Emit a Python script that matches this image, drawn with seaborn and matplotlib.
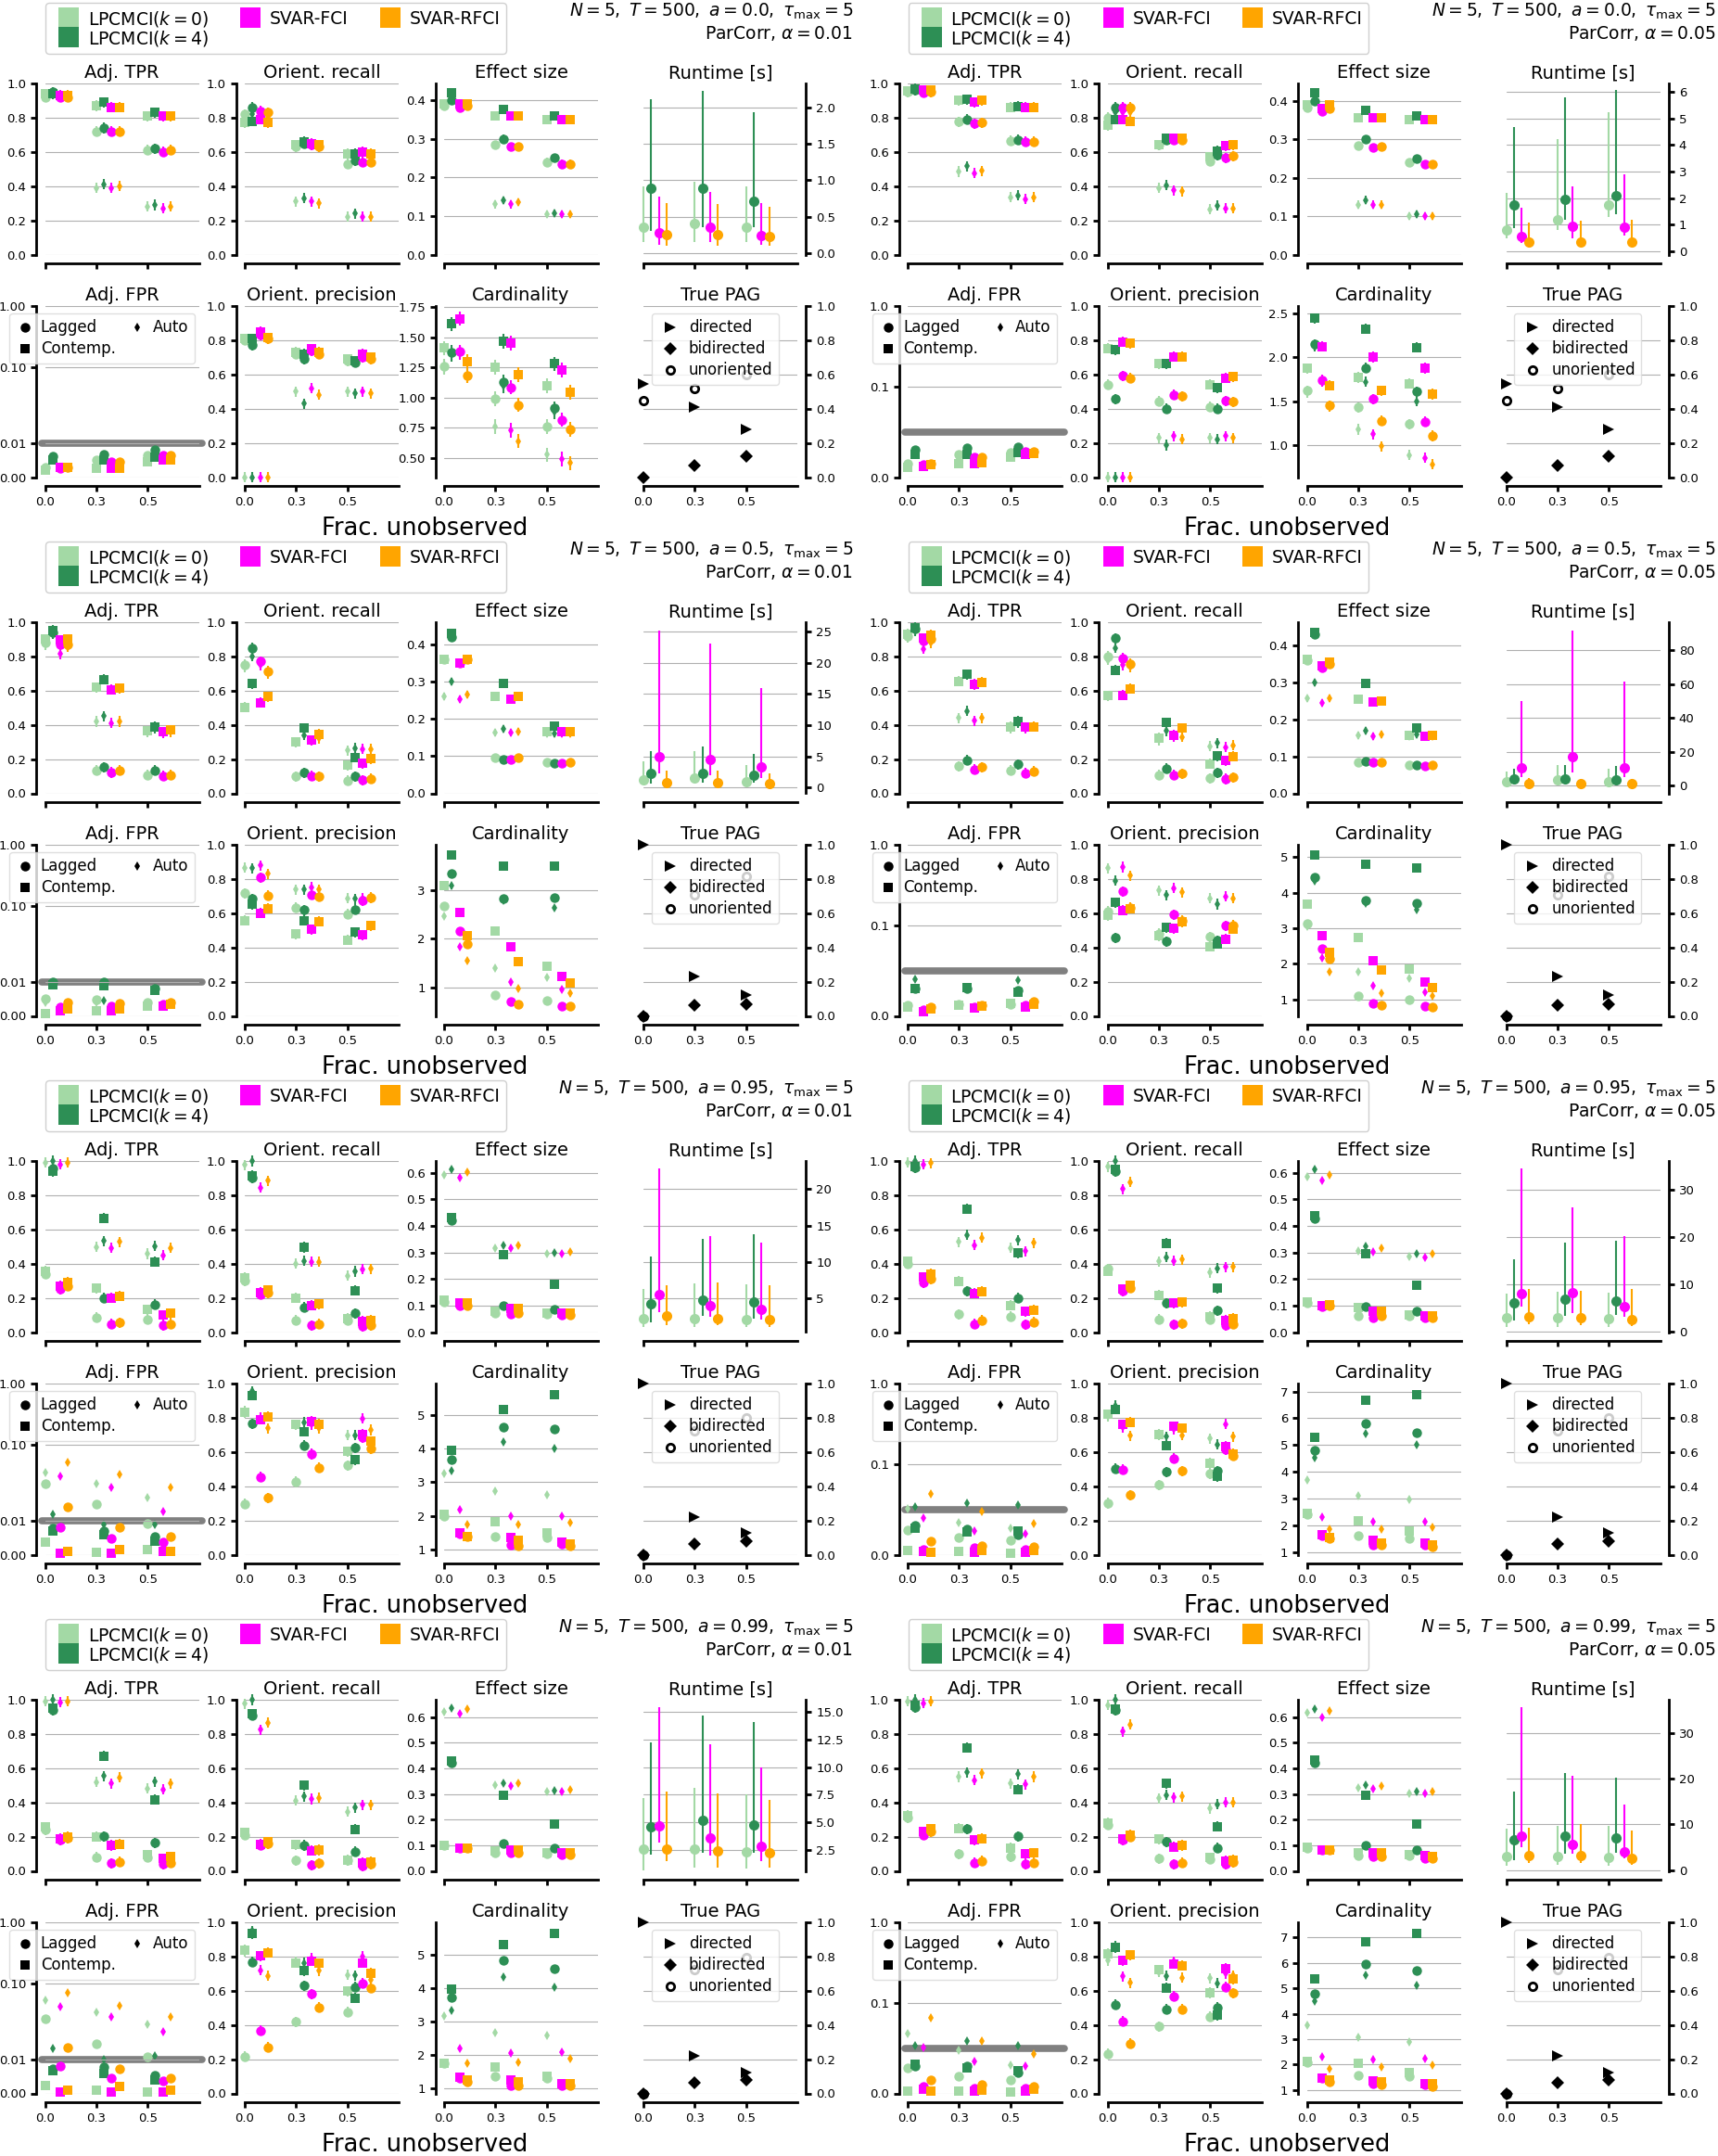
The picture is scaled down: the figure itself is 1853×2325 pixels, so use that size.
import matplotlib
matplotlib.use("Agg")
import matplotlib.pyplot as plt
import seaborn as sns
from matplotlib.lines import Line2D
from matplotlib.ticker import MultipleLocator, FixedLocator, FixedFormatter, NullLocator

# Every metric array: one row per method
#   (LPCMCI(k=0), LPCMCI(k=4), SVAR-FCI, SVAR-RFCI),
# one triple per fraction unobserved (0.0, 0.3, 0.5): (lagged, contemp., auto)
# Runtime triples are (mean, low, high).

# ---------------- a = 0.0, alpha = 0.01 ----------------
tpr_a00_01 = [[(0.92, 0.94, 0.93), (0.72, 0.87, 0.39), (0.61, 0.81, 0.28)],
              [(0.95, 0.94, 0.94), (0.74, 0.89, 0.41), (0.62, 0.83, 0.29)],
              [(0.92, 0.93, 0.92), (0.72, 0.86, 0.39), (0.60, 0.81, 0.27)],
              [(0.92, 0.93, 0.92), (0.72, 0.86, 0.40), (0.61, 0.81, 0.28)]]
recall_a00_01 = [[(0.82, 0.77, 0.80), (0.63, 0.64, 0.31), (0.53, 0.59, 0.22)],
                 [(0.86, 0.78, 0.82), (0.65, 0.66, 0.33), (0.55, 0.59, 0.24)],
                 [(0.84, 0.79, 0.81), (0.64, 0.65, 0.31), (0.54, 0.60, 0.22)],
                 [(0.83, 0.77, 0.80), (0.63, 0.64, 0.30), (0.54, 0.59, 0.22)]]
effect_a00_01 = [[(0.386, 0.39, 0.39), (0.285, 0.36, 0.13), (0.24, 0.35, 0.105)],
                 [(0.40, 0.418, 0.40), (0.30, 0.375, 0.14), (0.25, 0.36, 0.107)],
                 [(0.38, 0.39, 0.385), (0.28, 0.36, 0.13), (0.235, 0.35, 0.105)],
                 [(0.385, 0.39, 0.39), (0.28, 0.36, 0.135), (0.235, 0.35, 0.105)]]
runtime_a00_01 = [[(0.36, 0.15, 0.91), (0.41, 0.15, 0.98), (0.35, 0.15, 0.91)],
                  [(0.89, 0.30, 2.11), (0.89, 0.35, 2.23), (0.71, 0.35, 1.93)],
                  [(0.28, 0.12, 0.77), (0.35, 0.15, 0.84), (0.24, 0.12, 0.69)],
                  [(0.26, 0.10, 0.69), (0.25, 0.10, 0.67), (0.23, 0.10, 0.63)]]
fpr_a00_01 = [[(0.0029, 0.002, 0.0025), (0.0052, 0.0025, 0.004), (0.0065, 0.0045, 0.005)],
              [(0.0061, 0.005, 0.005), (0.0068, 0.005, 0.006), (0.008, 0.006, 0.007)],
              [(0.0025, 0.003, 0.0025), (0.0045, 0.0025, 0.004), (0.0065, 0.005, 0.006)],
              [(0.003, 0.003, 0.0025), (0.0045, 0.0025, 0.004), (0.0065, 0.005, 0.006)]]
prec_a00_01 = [[(0.80, 0.81, 0.0), (0.72, 0.73, 0.50), (0.68, 0.69, 0.50)],
               [(0.77, 0.81, 0.0), (0.69, 0.72, 0.43), (0.67, 0.68, 0.49)],
               [(0.83, 0.85, 0.0), (0.74, 0.75, 0.52), (0.70, 0.72, 0.50)],
               [(0.81, 0.815, 0.0), (0.72, 0.73, 0.48), (0.69, 0.70, 0.49)]]
card_a00_01 = [[(1.26, 1.41, 1.25), (0.99, 1.25, 0.76), (0.76, 1.10, 0.525)],
               [(1.375, 1.61, 1.36), (1.13, 1.466, 1.10), (0.91, 1.28, 0.88)],
               [(1.38, 1.656, 1.37), (1.085, 1.45, 0.73), (0.817, 1.23, 0.49)],
               [(1.185, 1.30, 1.18), (0.94, 1.19, 0.64), (0.735, 1.045, 0.457)]]

# ---------------- a = 0.0, alpha = 0.05 ----------------
tpr_a00_05 = [[(0.95, 0.956, 0.95), (0.776, 0.90, 0.485), (0.665, 0.86, 0.335)],
              [(0.96, 0.97, 0.96), (0.79, 0.906, 0.515), (0.67, 0.865, 0.345)],
              [(0.946, 0.96, 0.95), (0.765, 0.89, 0.475), (0.66, 0.86, 0.325)],
              [(0.95, 0.96, 0.95), (0.77, 0.90, 0.49), (0.66, 0.86, 0.335)]]
recall_a00_05 = [[(0.80, 0.755, 0.78), (0.64, 0.64, 0.39), (0.545, 0.57, 0.265)],
                 [(0.86, 0.79, 0.83), (0.67, 0.68, 0.405), (0.58, 0.605, 0.285)],
                 [(0.86, 0.79, 0.83), (0.67, 0.68, 0.375), (0.565, 0.635, 0.27)],
                 [(0.86, 0.78, 0.83), (0.67, 0.68, 0.37), (0.575, 0.64, 0.27)]]
effect_a00_05 = [[(0.382, 0.39, 0.385), (0.283, 0.355, 0.13), (0.24, 0.35, 0.10)],
                 [(0.40, 0.42, 0.40), (0.30, 0.376, 0.142), (0.25, 0.36, 0.105)],
                 [(0.372, 0.38, 0.375), (0.278, 0.355, 0.13), (0.235, 0.35, 0.10)],
                 [(0.38, 0.39, 0.385), (0.28, 0.355, 0.13), (0.235, 0.35, 0.10)]]
runtime_a00_05 = [[(0.81, 0.5, 2.2), (1.2, 0.8, 4.23), (1.75, 1.3, 5.23)],
                  [(1.74, 0.88, 4.68), (1.97, 1.2, 5.8), (2.1, 1.4, 6.06)],
                  [(0.55, 0.3, 1.63), (0.94, 0.5, 2.45), (0.9, 0.6, 2.9)],
                  [(0.36, 0.2, 1.07), (0.35, 0.2, 1.16), (0.35, 0.2, 1.2)]]
fpr_a00_05 = [[(0.0153, 0.011, 0.013), (0.025, 0.0145, 0.02), (0.027, 0.022, 0.025)],
              [(0.0305, 0.0248, 0.028), (0.032, 0.025, 0.03), (0.033, 0.027, 0.03)],
              [(0.014, 0.012, 0.013), (0.022, 0.015, 0.02), (0.028, 0.025, 0.026)],
              [(0.015, 0.014, 0.014), (0.022, 0.016, 0.02), (0.028, 0.026, 0.027)]]
prec_a00_05 = [[(0.542, 0.753, 0.0), (0.442, 0.663, 0.23), (0.41, 0.542, 0.23)],
               [(0.456, 0.743, 0.0), (0.40, 0.663, 0.187), (0.40, 0.522, 0.22)],
               [(0.592, 0.79, 0.0), (0.482, 0.703, 0.241), (0.446, 0.578, 0.24)],
               [(0.578, 0.783, 0.0), (0.472, 0.703, 0.22), (0.44, 0.586, 0.23)]]
card_a00_05 = [[(1.62, 1.873, 1.60), (1.43, 1.77, 1.18), (1.24, 1.70, 0.89)],
               [(2.145, 2.44, 2.12), (1.88, 2.32, 1.72), (1.61, 2.11, 1.50)],
               [(1.74, 2.12, 1.72), (1.526, 2.0, 1.125), (1.27, 1.876, 0.86)],
               [(1.45, 1.68, 1.44), (1.28, 1.62, 0.99), (1.11, 1.58, 0.786)]]

# ---------------- a = 0.5, alpha = 0.01 ----------------
tpr_a05_01 = [[(0.88, 0.90, 0.87), (0.134, 0.62, 0.42), (0.108, 0.365, 0.36)],
              [(0.94, 0.952, 0.93), (0.153, 0.665, 0.45), (0.133, 0.39, 0.38)],
              [(0.87, 0.895, 0.815), (0.122, 0.606, 0.41), (0.102, 0.36, 0.35)],
              [(0.87, 0.90, 0.855), (0.133, 0.614, 0.42), (0.108, 0.37, 0.36)]]
recall_a05_01 = [[(0.751, 0.504, 0.74), (0.098, 0.30, 0.30), (0.074, 0.165, 0.25)],
                 [(0.85, 0.64, 0.80), (0.12, 0.38, 0.34), (0.10, 0.21, 0.265)],
                 [(0.771, 0.53, 0.75), (0.102, 0.31, 0.31), (0.078, 0.175, 0.26)],
                 [(0.715, 0.564, 0.70), (0.10, 0.345, 0.32), (0.085, 0.203, 0.26)]]
effect_a05_01 = [[(0.36, 0.36, 0.26), (0.095, 0.26, 0.164), (0.084, 0.165, 0.16)],
                 [(0.42, 0.43, 0.30), (0.09, 0.295, 0.173), (0.08, 0.18, 0.16)],
                 [(0.35, 0.35, 0.253), (0.09, 0.253, 0.164), (0.08, 0.165, 0.16)],
                 [(0.36, 0.36, 0.265), (0.095, 0.26, 0.165), (0.083, 0.165, 0.16)]]
runtime_a05_01 = [[(1.25, 0.5, 4.26), (1.53, 0.8, 5.8), (0.98, 0.5, 3.7)],
                  [(2.3, 0.6, 5.9), (2.24, 0.8, 6.56), (1.97, 0.8, 5.35)],
                  [(4.97, 2.3, 25.2), (4.53, 2.0, 23.1), (3.28, 1.5, 15.96)],
                  [(0.87, 0.3, 2.8), (0.8, 0.3, 2.7), (0.7, 0.3, 2.3)]]
fpr_a05_01 = [[(0.0051, 0.0008, 0.004), (0.0048, 0.0015, 0.004), (0.004, 0.003, 0.0035)],
              [(0.0099, 0.0091, 0.0095), (0.0099, 0.009, 0.0045), (0.0081, 0.0075, 0.008)],
              [(0.0025, 0.0015, 0.002), (0.003, 0.0015, 0.0025), (0.0035, 0.003, 0.003)],
              [(0.0041, 0.002, 0.003), (0.0036, 0.002, 0.003), (0.004, 0.0035, 0.0035)]]
prec_a05_01 = [[(0.717, 0.558, 0.867), (0.633, 0.478, 0.739), (0.594, 0.442, 0.687)],
               [(0.683, 0.653, 0.863), (0.618, 0.556, 0.739), (0.622, 0.488, 0.683)],
               [(0.81, 0.60, 0.88), (0.709, 0.506, 0.753), (0.673, 0.472, 0.687)],
               [(0.703, 0.627, 0.83), (0.699, 0.552, 0.739), (0.693, 0.528, 0.689)]]
card_a05_01 = [[(2.67, 3.09, 2.47), (0.84, 2.17, 1.39), (0.73, 1.44, 1.2)],
               [(3.34, 3.73, 3.09), (2.83, 3.50, 2.80), (2.84, 3.50, 2.64)],
               [(2.156, 2.54, 1.84), (0.70, 1.83, 1.10), (0.62, 1.23, 0.96)],
               [(1.89, 2.07, 1.55), (0.65, 1.53, 0.98), (0.61, 1.085, 0.87)]]

# ---------------- a = 0.5, alpha = 0.05 ----------------
tpr_a05_05 = [[(0.92, 0.93, 0.91), (0.159, 0.655, 0.44), (0.133, 0.39, 0.38)],
              [(0.96, 0.968, 0.95), (0.193, 0.695, 0.48), (0.169, 0.42, 0.41)],
              [(0.89, 0.906, 0.845), (0.139, 0.637, 0.424), (0.118, 0.386, 0.38)],
              [(0.90, 0.926, 0.88), (0.153, 0.649, 0.44), (0.129, 0.39, 0.39)]]
recall_a05_05 = [[(0.80, 0.57, 0.78), (0.108, 0.323, 0.31), (0.088, 0.173, 0.275)],
                 [(0.906, 0.72, 0.85), (0.145, 0.414, 0.365), (0.12, 0.219, 0.295)],
                 [(0.79, 0.574, 0.75), (0.108, 0.339, 0.33), (0.084, 0.19, 0.27)],
                 [(0.757, 0.61, 0.74), (0.114, 0.38, 0.33), (0.094, 0.215, 0.28)]]
effect_a05_05 = [[(0.36, 0.362, 0.256), (0.085, 0.255, 0.156), (0.076, 0.158, 0.155)],
                 [(0.43, 0.435, 0.30), (0.087, 0.297, 0.17), (0.076, 0.177, 0.16)],
                 [(0.34, 0.345, 0.244), (0.083, 0.248, 0.155), (0.075, 0.155, 0.155)],
                 [(0.35, 0.355, 0.258), (0.083, 0.25, 0.16), (0.076, 0.158, 0.155)]]
runtime_a05_05 = [[(2.4, 1.0, 8.5), (3.4, 1.0, 12.5), (2.6, 1.0, 10.0)],
                  [(4.0, 1.5, 10.0), (4.2, 1.5, 12.5), (3.8, 1.5, 11.5)],
                  [(10.5, 5.0, 50.0), (17.1, 8.0, 91.5), (10.9, 5.0, 61.3)],
                  [(1.6, 0.5, 4.4), (1.2, 0.5, 4.0), (1.3, 0.5, 4.0)]]
fpr_a05_05 = [[(0.012, 0.0095, 0.011), (0.0133, 0.012, 0.012), (0.013, 0.014, 0.013)],
              [(0.030, 0.030, 0.041), (0.030, 0.031, 0.03), (0.0285, 0.026, 0.040)],
              [(0.007, 0.0046, 0.006), (0.010, 0.0084, 0.009), (0.012, 0.010, 0.011)],
              [(0.010, 0.0076, 0.009), (0.012, 0.011, 0.011), (0.016, 0.013, 0.015)]]
prec_a05_05 = [[(0.612, 0.588, 0.863), (0.48, 0.468, 0.733), (0.462, 0.406, 0.687)],
               [(0.456, 0.663, 0.79), (0.436, 0.516, 0.707), (0.44, 0.422, 0.653)],
               [(0.727, 0.616, 0.87), (0.592, 0.512, 0.747), (0.528, 0.448, 0.697)],
               [(0.633, 0.627, 0.82), (0.556, 0.55, 0.723), (0.53, 0.508, 0.687)]]
card_a05_05 = [[(3.125, 3.68, 3.05), (1.10, 2.73, 1.77), (1.0, 1.86, 1.60)],
               [(4.45, 5.06, 4.33), (3.78, 4.80, 3.72), (3.71, 4.69, 3.53)],
               [(2.44, 2.79, 2.16), (0.89, 2.10, 1.38), (0.81, 1.48, 1.21)],
               [(2.15, 2.33, 1.77), (0.85, 1.84, 1.18), (0.78, 1.34, 1.10)]]

# ---------------- a = 0.95, alpha = 0.01 ----------------
tpr_a95_01 = [[(0.34, 0.357, 0.99), (0.085, 0.256, 0.498), (0.075, 0.131, 0.458)],
              [(0.955, 0.94, 1.0), (0.20, 0.665, 0.532), (0.161, 0.411, 0.502)],
              [(0.252, 0.27, 0.98), (0.048, 0.20, 0.492), (0.038, 0.10, 0.448)],
              [(0.27, 0.29, 0.99), (0.056, 0.21, 0.528), (0.048, 0.109, 0.492)]]
recall_a95_01 = [[(0.30, 0.317, 0.976), (0.069, 0.20, 0.401), (0.07, 0.079, 0.33)],
                 [(0.90, 0.915, 1.0), (0.145, 0.496, 0.417), (0.109, 0.242, 0.355)],
                 [(0.22, 0.232, 0.845), (0.04, 0.155, 0.41), (0.034, 0.065, 0.367)],
                 [(0.23, 0.244, 0.885), (0.048, 0.165, 0.41), (0.04, 0.069, 0.371)]]
effect_a95_01 = [[(0.115, 0.119, 0.591), (0.07, 0.08, 0.317), (0.068, 0.071, 0.294)],
                 [(0.42, 0.432, 0.614), (0.10, 0.291, 0.326), (0.087, 0.18, 0.30)],
                 [(0.10, 0.109, 0.582), (0.067, 0.09, 0.317), (0.065, 0.07, 0.294)],
                 [(0.10, 0.11, 0.604), (0.07, 0.09, 0.326), (0.065, 0.07, 0.303)]]
runtime_a95_01 = [[(2.14, 1.0, 6.2), (2.1, 1.0, 7.0), (2.0, 1.0, 6.9)],
                  [(4.19, 1.67, 10.7), (4.76, 2.5, 13.2), (4.4, 2.2, 13.8)],
                  [(5.48, 3.0, 22.9), (3.9, 2.4, 13.5), (3.4, 2.0, 12.6)],
                  [(2.5, 1.2, 6.8), (2.2, 1.2, 7.1), (2.0, 1.0, 6.7)]]
fpr_a95_01 = [[(0.0225, 0.0037, 0.035), (0.015, 0.0008, 0.023), (0.0091, 0.0015, 0.0168)],
              [(0.0079, 0.0069, 0.012), (0.0071, 0.006, 0.009), (0.0054, 0.004, 0.009)],
              [(0.0081, 0.0005, 0.030), (0.0049, 0.0005, 0.020), (0.0036, 0.001, 0.0128)],
              [(0.0142, 0.001, 0.050), (0.0081, 0.0015, 0.032), (0.0054, 0.001, 0.0198)]]
prec_a95_01 = [[(0.297, 0.83, 0.84), (0.428, 0.759, 0.76), (0.522, 0.602, 0.699)],
               [(0.765, 0.93, 0.956), (0.639, 0.719, 0.773), (0.624, 0.554, 0.699)],
               [(0.454, 0.79, 0.80), (0.588, 0.779, 0.76), (0.683, 0.703, 0.795)],
               [(0.333, 0.807, 0.739), (0.508, 0.763, 0.739), (0.62, 0.663, 0.729)]]
card_a95_01 = [[(2.0, 2.05, 3.26), (1.38, 1.82, 2.74), (1.35, 1.48, 2.63)],
               [(3.67, 3.96, 3.33), (4.65, 5.16, 4.21), (4.58, 5.60, 4.0)],
               [(1.45, 1.48, 2.17), (1.12, 1.35, 1.98), (1.15, 1.2, 2.0)],
               [(1.38, 1.38, 1.74), (1.1, 1.28, 1.74), (1.1, 1.15, 1.79)]]

# ---------------- a = 0.95, alpha = 0.05 ----------------
tpr_a95_05 = [[(0.40, 0.413, 0.99), (0.105, 0.296, 0.528), (0.09, 0.155, 0.492)],
              [(0.96, 0.97, 1.0), (0.24, 0.72, 0.569), (0.20, 0.462, 0.538)],
              [(0.29, 0.32, 0.98), (0.048, 0.226, 0.508), (0.044, 0.121, 0.474)],
              [(0.31, 0.34, 0.988), (0.069, 0.236, 0.552), (0.058, 0.129, 0.522)]]
recall_a95_05 = [[(0.37, 0.357, 0.966), (0.075, 0.216, 0.413), (0.075, 0.091, 0.347)],
                 [(0.94, 0.95, 1.0), (0.169, 0.518, 0.437), (0.125, 0.256, 0.373)],
                 [(0.24, 0.25, 0.837), (0.044, 0.169, 0.417), (0.04, 0.07, 0.381)],
                 [(0.26, 0.272, 0.877), (0.05, 0.175, 0.423), (0.048, 0.079, 0.381)]]
effect_a95_05 = [[(0.11, 0.113, 0.585), (0.061, 0.093, 0.307), (0.06, 0.065, 0.285)],
                 [(0.43, 0.439, 0.613), (0.097, 0.296, 0.322), (0.08, 0.177, 0.294)],
                 [(0.095, 0.10, 0.572), (0.054, 0.08, 0.303), (0.055, 0.061, 0.283)],
                 [(0.10, 0.102, 0.593), (0.06, 0.08, 0.316), (0.055, 0.06, 0.294)]]
runtime_a95_05 = [[(2.9, 1.0, 8.1), (2.9, 1.0, 8.5), (2.7, 1.0, 8.3)],
                  [(6.1, 2.3, 15.3), (6.9, 3.4, 18.8), (6.5, 3.5, 19.3)],
                  [(8.0, 5.3, 34.5), (8.2, 4.0, 26.3), (5.2, 3.2, 20.2)],
                  [(3.1, 1.5, 9.0), (2.9, 1.3, 8.7), (2.5, 1.2, 9.0)]]
fpr_a95_05 = [[(0.027, 0.005, 0.051), (0.019, 0.004, 0.036), (0.016, 0.002, 0.029)],
              [(0.032, 0.029, 0.053), (0.028, 0.025, 0.057), (0.022, 0.026, 0.055)],
              [(0.006, 0.004, 0.041), (0.008, 0.003, 0.026), (0.006, 0.003, 0.023)],
              [(0.0146, 0.003, 0.067), (0.010, 0.005, 0.048), (0.009, 0.005, 0.035)]]
prec_a95_05 = [[(0.301, 0.819, 0.81), (0.408, 0.703, 0.70), (0.474, 0.534, 0.679)],
               [(0.504, 0.849, 0.87), (0.484, 0.639, 0.689), (0.488, 0.458, 0.643)],
               [(0.498, 0.759, 0.743), (0.562, 0.749, 0.733), (0.614, 0.633, 0.763)],
               [(0.347, 0.775, 0.695), (0.488, 0.739, 0.699), (0.578, 0.588, 0.689)]]
card_a95_05 = [[(2.4, 2.45, 3.70), (1.6, 2.16, 3.12), (1.52, 1.8, 2.95)],
               [(4.80, 5.3, 4.52), (5.82, 6.68, 5.44), (5.46, 6.88, 5.0)],
               [(1.6, 1.64, 2.31), (1.25, 1.45, 2.12), (1.25, 1.32, 2.12)],
               [(1.5, 1.54, 1.86), (1.25, 1.35, 1.86), (1.2, 1.26, 1.93)]]

# ---------------- a = 0.99, alpha = 0.01 ----------------
tpr_a99_01 = [[(0.24, 0.255, 0.99), (0.08, 0.20, 0.52), (0.08, 0.094, 0.48)],
              [(0.94, 0.95, 1.0), (0.203, 0.67, 0.554), (0.163, 0.416, 0.522)],
              [(0.18, 0.189, 0.984), (0.044, 0.149, 0.512), (0.038, 0.072, 0.476)],
              [(0.19, 0.199, 0.99), (0.052, 0.155, 0.546), (0.048, 0.082, 0.51)]]
recall_a99_01 = [[(0.21, 0.223, 0.976), (0.062, 0.153, 0.41), (0.06, 0.064, 0.345)],
                 [(0.91, 0.916, 1.0), (0.149, 0.50, 0.434), (0.112, 0.243, 0.369)],
                 [(0.15, 0.155, 0.825), (0.034, 0.118, 0.42), (0.03, 0.048, 0.385)],
                 [(0.16, 0.169, 0.867), (0.044, 0.122, 0.426), (0.04, 0.052, 0.385)]]
effect_a99_01 = [[(0.098, 0.098, 0.621), (0.07, 0.079, 0.334), (0.068, 0.069, 0.308)],
                 [(0.42, 0.429, 0.634), (0.105, 0.296, 0.341), (0.089, 0.182, 0.314)],
                 [(0.088, 0.088, 0.614), (0.07, 0.08, 0.332), (0.065, 0.07, 0.309)],
                 [(0.09, 0.09, 0.631), (0.07, 0.08, 0.341), (0.065, 0.07, 0.318)]]
runtime_a99_01 = [[(2.6, 0.68, 7.2), (2.6, 0.9, 8.1), (2.3, 0.8, 7.5)],
                  [(4.6, 2.07, 12.25), (5.2, 2.2, 14.7), (4.75, 2.2, 14.1)],
                  [(4.7, 3.2, 15.4), (3.6, 2.0, 12.1), (2.8, 1.5, 10.0)],
                  [(2.6, 1.45, 7.75), (2.4, 0.9, 7.6), (2.2, 0.9, 7.0)]]
fpr_a99_01 = [[(0.0263, 0.0023, 0.052), (0.0147, 0.001, 0.0329), (0.0109, 0.0005, 0.0214)],
              [(0.0073, 0.0066, 0.0134), (0.0079, 0.006, 0.010), (0.0053, 0.004, 0.011)],
              [(0.0081, 0.0005, 0.0415), (0.0046, 0.0005, 0.0277), (0.0036, 0.0005, 0.0181)],
              [(0.0137, 0.001, 0.0689), (0.0073, 0.002, 0.0426), (0.0046, 0.001, 0.0277)]]
prec_a99_01 = [[(0.215, 0.839, 0.83), (0.418, 0.763, 0.77), (0.476, 0.598, 0.693)],
               [(0.769, 0.934, 0.95), (0.629, 0.717, 0.763), (0.622, 0.556, 0.689)],
               [(0.367, 0.803, 0.719), (0.582, 0.773, 0.79), (0.643, 0.763, 0.80)],
               [(0.271, 0.823, 0.687), (0.502, 0.759, 0.717), (0.616, 0.703, 0.663)]]
card_a99_01 = [[(1.75, 1.75, 3.16), (1.36, 1.65, 2.68), (1.3, 1.36, 2.58)],
               [(3.73, 3.99, 3.34), (4.84, 5.30, 4.35), (4.59, 5.64, 4.04)],
               [(1.3, 1.34, 2.19), (1.1, 1.26, 2.06), (1.1, 1.15, 2.08)],
               [(1.2, 1.26, 1.74), (1.1, 1.19, 1.79), (1.1, 1.13, 1.88)]]

# ---------------- a = 0.99, alpha = 0.05 ----------------
tpr_a99_05 = [[(0.31, 0.325, 0.99), (0.098, 0.249, 0.55), (0.082, 0.135, 0.51)],
              [(0.956, 0.97, 1.0), (0.245, 0.72, 0.576), (0.203, 0.476, 0.566)],
              [(0.209, 0.229, 0.98), (0.048, 0.179, 0.53), (0.038, 0.098, 0.506)],
              [(0.23, 0.245, 0.99), (0.058, 0.189, 0.57), (0.048, 0.104, 0.55)]]
recall_a99_05 = [[(0.27, 0.279, 0.97), (0.072, 0.185, 0.424), (0.07, 0.078, 0.365)],
                 [(0.94, 0.948, 1.0), (0.169, 0.51, 0.444), (0.133, 0.259, 0.39)],
                 [(0.18, 0.185, 0.815), (0.038, 0.139, 0.43), (0.04, 0.058, 0.40)],
                 [(0.20, 0.209, 0.855), (0.048, 0.149, 0.436), (0.05, 0.064, 0.40)]]
effect_a99_05 = [[(0.09, 0.092, 0.618), (0.061, 0.072, 0.325), (0.06, 0.063, 0.301)],
                 [(0.42, 0.431, 0.631), (0.098, 0.296, 0.336), (0.083, 0.182, 0.309)],
                 [(0.08, 0.081, 0.60), (0.056, 0.07, 0.321), (0.05, 0.059, 0.301)],
                 [(0.08, 0.083, 0.622), (0.055, 0.07, 0.332), (0.05, 0.055, 0.309)]]
runtime_a99_05 = [[(3.0, 1.0, 9.1), (3.07, 1.2, 9.7), (2.8, 1.0, 9.6)],
                  [(6.7, 2.25, 17.1), (7.5, 3.5, 21.3), (7.0, 3.7, 20.2)],
                  [(7.5, 5.0, 35.6), (5.6, 3.5, 20.7), (3.9, 2.5, 14.4)],
                  [(3.15, 1.5, 9.2), (3.1, 1.5, 10.0), (2.6, 1.2, 8.6)]]
fpr_a99_05 = [[(0.0285, 0.003, 0.0665), (0.019, 0.003, 0.0475), (0.0145, 0.002, 0.031)],
              [(0.030, 0.032, 0.053), (0.030, 0.0285, 0.058), (0.023, 0.025, 0.053)],
              [(0.008, 0.005, 0.051), (0.006, 0.003, 0.036), (0.006, 0.003, 0.030)],
              [(0.0145, 0.003, 0.0844), (0.010, 0.004, 0.058), (0.008, 0.005, 0.0437)]]
prec_a99_05 = [[(0.231, 0.817, 0.777), (0.392, 0.723, 0.71), (0.448, 0.588, 0.673)],
               [(0.518, 0.853, 0.86), (0.492, 0.616, 0.687), (0.502, 0.458, 0.643)],
               [(0.422, 0.777, 0.683), (0.568, 0.757, 0.77), (0.622, 0.729, 0.70)],
               [(0.291, 0.809, 0.647), (0.492, 0.747, 0.677), (0.586, 0.669, 0.69)]]
card_a99_05 = [[(2.1, 2.12, 3.53), (1.58, 2.04, 3.06), (1.52, 1.68, 2.9)],
               [(4.77, 5.38, 4.5), (5.96, 6.85, 5.52), (5.71, 7.16, 5.13)],
               [(1.45, 1.47, 2.31), (1.25, 1.34, 2.18), (1.2, 1.24, 2.22)],
               [(1.3, 1.38, 1.81), (1.2, 1.30, 1.91), (1.15, 1.23, 1.97)]]

# True PAG fractions per frac. unobserved: directed, bidirected, unoriented
pag_a00 = [[0.547, 0.411, 0.279], [0.0, 0.069, 0.12], [0.449, 0.516, 0.60]]
pag_a05 = [[1.0, 0.233, 0.12], [0.0, 0.06, 0.066], [0.0, 0.707, 0.817]]
pag_a95 = [[1.0, 0.219, 0.127], [0.0, 0.062, 0.076], [0.0, 0.723, 0.80]]
pag_a99 = [[1.0, 0.221, 0.124], [0.0, 0.06, 0.08], [0.0, 0.723, 0.793]]

methods = ["LPCMCI($k=0$)", "LPCMCI($k=4$)", "SVAR-FCI", "SVAR-RFCI"]
frac_labels = ["0.0", "0.3", "0.5"]
blocks = [("a00_01", "0.0", 0.01), ("a00_05", "0.0", 0.05),
          ("a05_01", "0.5", 0.01), ("a05_05", "0.5", 0.05),
          ("a95_01", "0.95", 0.01), ("a95_05", "0.95", 0.05),
          ("a99_01", "0.99", 0.01), ("a99_05", "0.99", 0.05)]

g = globals()
pags = {"0.0": pag_a00, "0.5": pag_a05, "0.95": pag_a95, "0.99": pag_a99}

# axis ranges per block (style)
effect_top = {"a00_01": 0.443, "a00_05": 0.445, "a05_01": 0.46, "a05_05": 0.463,
              "a95_01": 0.645, "a95_05": 0.645, "a99_01": 0.667, "a99_05": 0.667}
card_range = {"a00_01": (0.34, 1.76, 0.25), "a00_05": (0.64, 2.58, 0.5),
              "a05_01": (0.41, 3.94, 1), "a05_05": (0.54, 5.35, 1),
              "a95_01": (0.84, 5.94, 1), "a95_05": (0.9, 7.3, 1),
              "a99_01": (0.85, 5.98, 1), "a99_05": (0.86, 7.6, 1)}
rt_range = {"a00_01": (-0.02, 2.33, 0.5), "a00_05": (-0.12, 6.32, 1),
            "a05_01": (-0.9, 26.5, 5), "a05_05": (-4.4, 96.5, 20),
            "a95_01": (0.3, 23.9, 5), "a95_05": (-0.1, 36.1, 10),
            "a99_01": (0.6, 16.1, 2.5), "a99_05": (-0.15, 37.2, 10)}

colors = ["#a3d9a5", "#2d8f55", "#ff00ff", "#ffa500"]
offsets = [0.0, 0.15, 0.30, 0.45]
kinds = [("o", 7.5), ("s", 7.0), ("d", 5.5)]
err_half = {"tpr": 0.03, "recall": 0.03, "effect": 0.01, "prec": 0.03, "card": 0.06}

sns.set_style("ticks")
plt.rcParams.update({
    "font.family": ["DejaVu Sans"],
    "mathtext.fontset": "dejavusans",
    "axes.edgecolor": "black",
    "axes.linewidth": 2.0,
    "xtick.color": "black",
    "ytick.color": "black",
    "xtick.major.width": 2.0,
    "ytick.major.width": 2.0,
    "xtick.major.size": 4.5,
    "ytick.major.size": 4.5,
    "xtick.labelsize": 9.5,
    "ytick.labelsize": 9.5,
    "text.color": "black",
})

W, H = 1853, 2325
fig = plt.figure(figsize=(W / 100, H / 100), dpi=100)


def add_ax(x, y, w, h):
    return fig.add_axes([x / W, 1 - (y + h) / H, w / W, h / H])


def base_axis(ax, title, right=False, labels=True):
    ax.set_xlim(0, 3)
    ax.set_xticks([0, 1, 2])
    ax.set_xticklabels(frac_labels)
    ax.tick_params(axis="x", labelbottom=labels)
    ax.yaxis.grid(True, color="#b0b0b0", lw=0.8)
    ax.set_axisbelow(True)
    ax.set_title(title, fontsize=14, pad=4)
    if right:
        sns.despine(ax=ax, left=True, right=False, offset=6.5)
        ax.yaxis.tick_right()
    else:
        sns.despine(ax=ax, offset=6.5)


def draw_metric(ax, vals, err):
    for m, rows in enumerate(vals):
        xs = [k + offsets[m] for k in range(3)]
        for t, (mk, ms) in enumerate(kinds):
            ys = [rows[k][t] for k in range(3)]
            ax.errorbar(xs, ys, yerr=err, fmt=mk, markersize=ms, color=colors[m],
                        markeredgewidth=0, elinewidth=1.5, capsize=0,
                        clip_on=False, zorder=3)


def draw_runtime(ax, vals):
    for m, rows in enumerate(vals):
        xs = [k + offsets[m] for k in range(3)]
        mid = [r[0] for r in rows]
        lo = [r[0] - r[1] for r in rows]
        hi = [r[2] - r[0] for r in rows]
        ax.errorbar(xs, mid, yerr=[lo, hi], fmt="o", markersize=8, color=colors[m],
                    markeredgewidth=0, elinewidth=1.5, capsize=1.5, capthick=2,
                    clip_on=False, zorder=3)


lag_handles = [Line2D([], [], ls="none", marker="o", markersize=7.5, color="k", mew=0),
               Line2D([], [], ls="none", marker="s", markersize=7, color="k", mew=0),
               Line2D([], [], ls="none", marker="d", markersize=5.5, color="k", mew=0),
               Line2D([], [], ls="none")]
pag_handles = [Line2D([], [], ls="none", marker=">", markersize=8, color="k", mew=0),
               Line2D([], [], ls="none", marker="D", markersize=7, color="k", mew=0),
               Line2D([], [], ls="none", marker="o", markersize=6, mfc="white",
                      mec="k", mew=2)]
blank = Line2D([], [], ls="none")
method_handles = [Line2D([], [], ls="none", marker="s", markersize=16, color=c, mew=0)
                  for c in colors]

block_x = [0, 930.5]
block_y = [0, 581, 1162, 1743]
col_x = [48.5, 264, 479, 694]
row_y = [90, 330]
AX_W, AX_H = 166, 184.5

for i, (key, a_txt, alpha) in enumerate(blocks):
    bx = block_x[i % 2]
    by = block_y[i // 2]

    # ---- top row ----
    ax = add_ax(bx + col_x[0], by + row_y[0], AX_W, AX_H)
    draw_metric(ax, g["tpr_" + key], err_half["tpr"])
    ax.set_ylim(0, 1)
    ax.yaxis.set_major_locator(MultipleLocator(0.2))
    base_axis(ax, "Adj. TPR", labels=False)

    ax = add_ax(bx + col_x[1], by + row_y[0], AX_W, AX_H)
    draw_metric(ax, g["recall_" + key], err_half["recall"])
    ax.set_ylim(0, 1)
    ax.yaxis.set_major_locator(MultipleLocator(0.2))
    base_axis(ax, "Orient. recall", labels=False)

    ax = add_ax(bx + col_x[2], by + row_y[0], AX_W, AX_H)
    draw_metric(ax, g["effect_" + key], err_half["effect"])
    ax.set_ylim(0, effect_top[key])
    ax.yaxis.set_major_locator(MultipleLocator(0.1))
    base_axis(ax, "Effect size", labels=False)

    ax = add_ax(bx + col_x[3], by + row_y[0], AX_W, AX_H)
    draw_runtime(ax, g["runtime_" + key])
    lo, hi, step = rt_range[key]
    ax.set_ylim(lo, hi)
    ax.yaxis.set_major_locator(MultipleLocator(step))
    base_axis(ax, "Runtime [s]", right=True, labels=False)

    # ---- bottom row ----
    ax = add_ax(bx + col_x[0], by + row_y[1], AX_W, AX_H)
    draw_metric(ax, g["fpr_" + key], None)
    ax.set_yscale("symlog", linthresh=2 * alpha, linscale=1.0)
    ax.set_ylim(0, 1.0005)
    if alpha == 0.01:
        ticks, tlabels = [0, 0.01, 0.1, 1], ["0.00", "0.01", "0.10", "1.00"]
    else:
        ticks, tlabels = [0, 0.1, 1], ["0.0", "0.1", "1.0"]
    ax.yaxis.set_major_locator(FixedLocator(ticks))
    ax.yaxis.set_major_formatter(FixedFormatter(tlabels))
    ax.yaxis.set_minor_locator(NullLocator())
    ax.axhline(alpha, xmin=-0.02, xmax=1.02, color="grey", lw=5.5, zorder=2, clip_on=False)
    base_axis(ax, "Adj. FPR")
    ax.legend(lag_handles, ["Lagged", "Contemp.", "Auto", ""], ncol=2, loc="upper left",
              bbox_to_anchor=(-0.229, 0.958), fontsize=12, handlelength=1.2,
              handletextpad=0.4, columnspacing=0.8, labelspacing=0.3, borderpad=0.4,
              borderaxespad=0, frameon=True, edgecolor="#d8d8d8")
    ax.yaxis.set_zorder(6)

    ax = add_ax(bx + col_x[1], by + row_y[1], AX_W, AX_H)
    draw_metric(ax, g["prec_" + key], err_half["prec"])
    ax.set_ylim(0, 1)
    ax.yaxis.set_major_locator(MultipleLocator(0.2))
    base_axis(ax, "Orient. precision")

    ax = add_ax(bx + col_x[2], by + row_y[1], AX_W, AX_H)
    draw_metric(ax, g["card_" + key], err_half["card"])
    lo, hi, step = card_range[key]
    ax.set_ylim(lo, hi)
    ax.yaxis.set_major_locator(MultipleLocator(step))
    base_axis(ax, "Cardinality")

    ax = add_ax(bx + col_x[3], by + row_y[1], AX_W, AX_H)
    pag = pags[a_txt]
    xs = [0, 1, 2]
    ax.plot(xs, pag[2], ls="none", marker="o", markersize=6, mfc="white", mec="k",
            mew=2, clip_on=False, zorder=3)
    ax.plot(xs, pag[0], ls="none", marker=">", markersize=8, color="k", mew=0,
            clip_on=False, zorder=3)
    ax.plot(xs, pag[1], ls="none", marker="D", markersize=7, color="k", mew=0,
            clip_on=False, zorder=3)
    ax.set_ylim(0, 1)
    ax.yaxis.set_major_locator(MultipleLocator(0.2))
    base_axis(ax, "True PAG", right=True)
    ax.legend(pag_handles, ["directed", "bidirected", "unoriented"], loc="upper left",
              bbox_to_anchor=(0.052, 0.958), fontsize=12, handlelength=1.6,
              handletextpad=0.4, labelspacing=0.3, borderpad=0.4, borderaxespad=0,
              frameon=True, edgecolor="#d8d8d8")

    # ---- block legend, header, x label ----
    handles = [method_handles[0], method_handles[1], method_handles[2], blank,
               method_handles[3], blank]
    labels = [methods[0], methods[1], methods[2], "", methods[3], ""]
    fig.legend(handles, labels, ncol=3, loc="upper left",
               bbox_to_anchor=((bx + 49) / W, 1 - (by + 3) / H),
               fontsize=13.5, handlelength=2.0, handleheight=0.9, labelspacing=0.0,
               columnspacing=1.4, handletextpad=0.1, borderpad=0.35, borderaxespad=0,
               frameon=True, fancybox=True, edgecolor="#d0d0d0", framealpha=1)

    fig.text((bx + 920) / W, 1 - (by + 12) / H,
             r"$N=5,\ T=500,\ a=%s,\ \tau_{\max}=5$" % a_txt,
             ha="right", va="center", fontsize=13.5)
    fig.text((bx + 920) / W, 1 - (by + 36) / H, r"ParCorr, $\alpha=%s$" % alpha,
             ha="right", va="center", fontsize=13.5)
    fig.text((bx + 458) / W, 1 - (by + 570) / H, "Frac. unobserved",
             ha="center", va="center", fontsize=18.5)

fig.savefig("out.png", dpi=100)
